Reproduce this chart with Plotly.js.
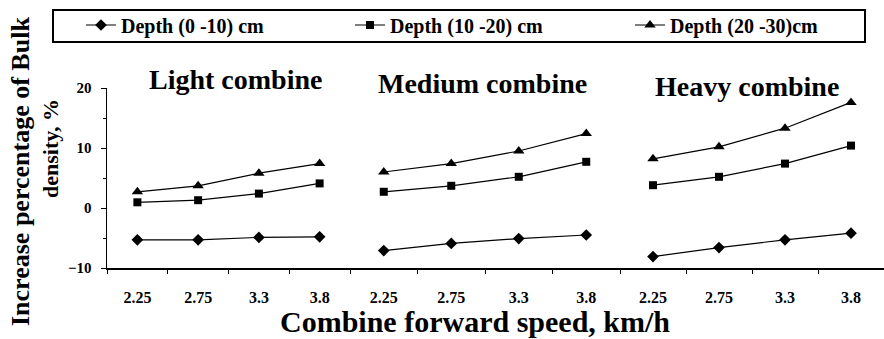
<!DOCTYPE html>
<html>
<head>
<meta charset="utf-8">
<script src="https://cdn.plot.ly/plotly-3.0.1.min.js"></script>
<style>html,body{margin:0;padding:0;background:#fff;}#chart{width:884px;height:339px;}</style>
</head>
<body>
<div id="chart"></div>
<script>
// ---- data ----
const speeds = ['2.25', '2.75', '3.3', '3.8'];
const combines = ['Light combine', 'Medium combine', 'Heavy combine'];
const depthNames = ['Depth (0 -10) cm', 'Depth (10 -20) cm', 'Depth (20 -30)cm'];
const light_0_10  = [-5.3, -5.3, -4.9, -4.8];
const light_10_20 = [0.95, 1.3, 2.4, 4.1];
const light_20_30 = [2.7, 3.7, 5.8, 7.4];
const medium_0_10  = [-7.1, -5.9, -5.1, -4.5];
const medium_10_20 = [2.7, 3.7, 5.2, 7.7];
const medium_20_30 = [6.0, 7.4, 9.5, 12.4];
const heavy_0_10  = [-8.1, -6.6, -5.3, -4.2];
const heavy_10_20 = [3.8, 5.2, 7.4, 10.4];
const heavy_20_30 = [8.2, 10.2, 13.3, 17.6];
const yTicks = [-10, 0, 10, 20];
const xTitle = 'Combine forward speed, km/h';
const yTitle1 = 'Increase percentage of Bulk';
const yTitle2 = 'density, %';

const panels = [
  [light_0_10, light_10_20, light_20_30],
  [medium_0_10, medium_10_20, medium_20_30],
  [heavy_0_10, heavy_10_20, heavy_20_30]
];
const symbols = ['diamond', 'square', 'triangle-up'];
const msizes = [9, 8, 10];
const FONT = 'Times New Roman, Liberation Serif, serif';
const legendNames = ['legend', 'legend2', 'legend3'];

const traces = [];
panels.forEach((series, p) => {
  const ax = p === 0 ? 'x' : 'x' + (p + 1);
  series.forEach((vals, d) => {
    traces.push({
      type: 'scatter', mode: 'lines+markers',
      x: speeds, y: vals, xaxis: ax, yaxis: 'y',
      name: depthNames[d],
      showlegend: p === 0,
      legend: legendNames[d],
      line: {color: '#000', width: 1.2},
      marker: {symbol: symbols[d], size: msizes[d], color: '#000'}
    });
  });
});

// layout geometry
const L = 107, R = 0, T = 88, B = 71, W = 884, H = 339;
const pw = W - L - R, ph = H - T - B;
const px = v => (v - L) / pw;
const py = v => (H - B - v) / ph;
const bounds = [107, 350, 620, 884];

function xaxis(i) {
  return {
    domain: [px(bounds[i]), px(bounds[i + 1])],
    anchor: 'y', type: 'category', categoryarray: speeds,
    range: [-0.5, 3.5],
    showline: true, linecolor: '#000', linewidth: 1.5,
    ticks: 'outside', tickson: 'boundaries', ticklen: 4, tickcolor: '#000',
    ticklabelstandoff: 14,
    tickfont: {family: FONT, size: 16, color: '#000', weight: 'bold'},
    showgrid: false, zeroline: false, fixedrange: true
  };
}

const annotations = combines.map((c, i) => ({
  text: '<b>' + c + '</b>', showarrow: false, xref: 'paper', yref: 'paper',
  x: px([235, 482, 747][i]), y: py([80, 83, 86][i]), xanchor: 'center', yanchor: 'middle',
  font: {family: FONT, size: 28, color: '#000'}
}));
annotations.push({
  text: '<b>' + xTitle + '</b>', showarrow: false, xref: 'paper', yref: 'paper',
  x: px(475), y: py(321), xanchor: 'center', yanchor: 'middle',
  font: {family: FONT, size: 30, color: '#000'}
});
annotations.push({
  text: '<b>' + yTitle1 + '</b>', showarrow: false, xref: 'paper', yref: 'paper',
  x: px(20), y: py(172), xanchor: 'center', yanchor: 'middle', textangle: -90,
  font: {family: FONT, size: 26, color: '#000'}
});
annotations.push({
  text: '<b>' + yTitle2 + '</b>', showarrow: false, xref: 'paper', yref: 'paper',
  x: px(50), y: py(148), xanchor: 'center', yanchor: 'middle', textangle: -90,
  font: {family: FONT, size: 22, color: '#000'}
});

function legend(xpix) {
  return {
    orientation: 'h', x: px(xpix), xanchor: 'left', y: py(25), yanchor: 'middle',
    bgcolor: 'rgba(0,0,0,0)', borderwidth: 0,
    font: {family: FONT, size: 20, color: '#000', weight: 'bold'}
  };
}

const layout = {
  width: W, height: H,
  margin: {l: L, r: R, t: T, b: B},
  paper_bgcolor: '#fff', plot_bgcolor: '#fff',
  font: {family: FONT, color: '#000'},
  showlegend: true,
  legend: legend(81), legend2: legend(350), legend3: legend(630),
  xaxis: xaxis(0), xaxis2: xaxis(1), xaxis3: xaxis(2),
  yaxis: {
    domain: [0, 1], anchor: 'x', range: [-10, 20],
    tickvals: yTicks, ticks: 'outside', ticklen: 5, tickcolor: '#000',
    ticklabelstandoff: 6,
    minor: {dtick: 5, ticks: 'outside', ticklen: 3, tickcolor: '#000'},
    showline: true, linecolor: '#000', linewidth: 1.5,
    tickfont: {family: FONT, size: 15, color: '#000', weight: 'bold'},
    showgrid: false, zeroline: false, fixedrange: true
  },
  shapes: [{
    type: 'rect', xref: 'paper', yref: 'paper',
    x0: px(53), x1: px(865), y0: py(42), y1: py(10),
    line: {color: '#000', width: 2}, fillcolor: 'rgba(0,0,0,0)'
  }],
  annotations: annotations
};

Plotly.newPlot('chart', traces, layout, {displayModeBar: false, staticPlot: true});
</script>
</body>
</html>
